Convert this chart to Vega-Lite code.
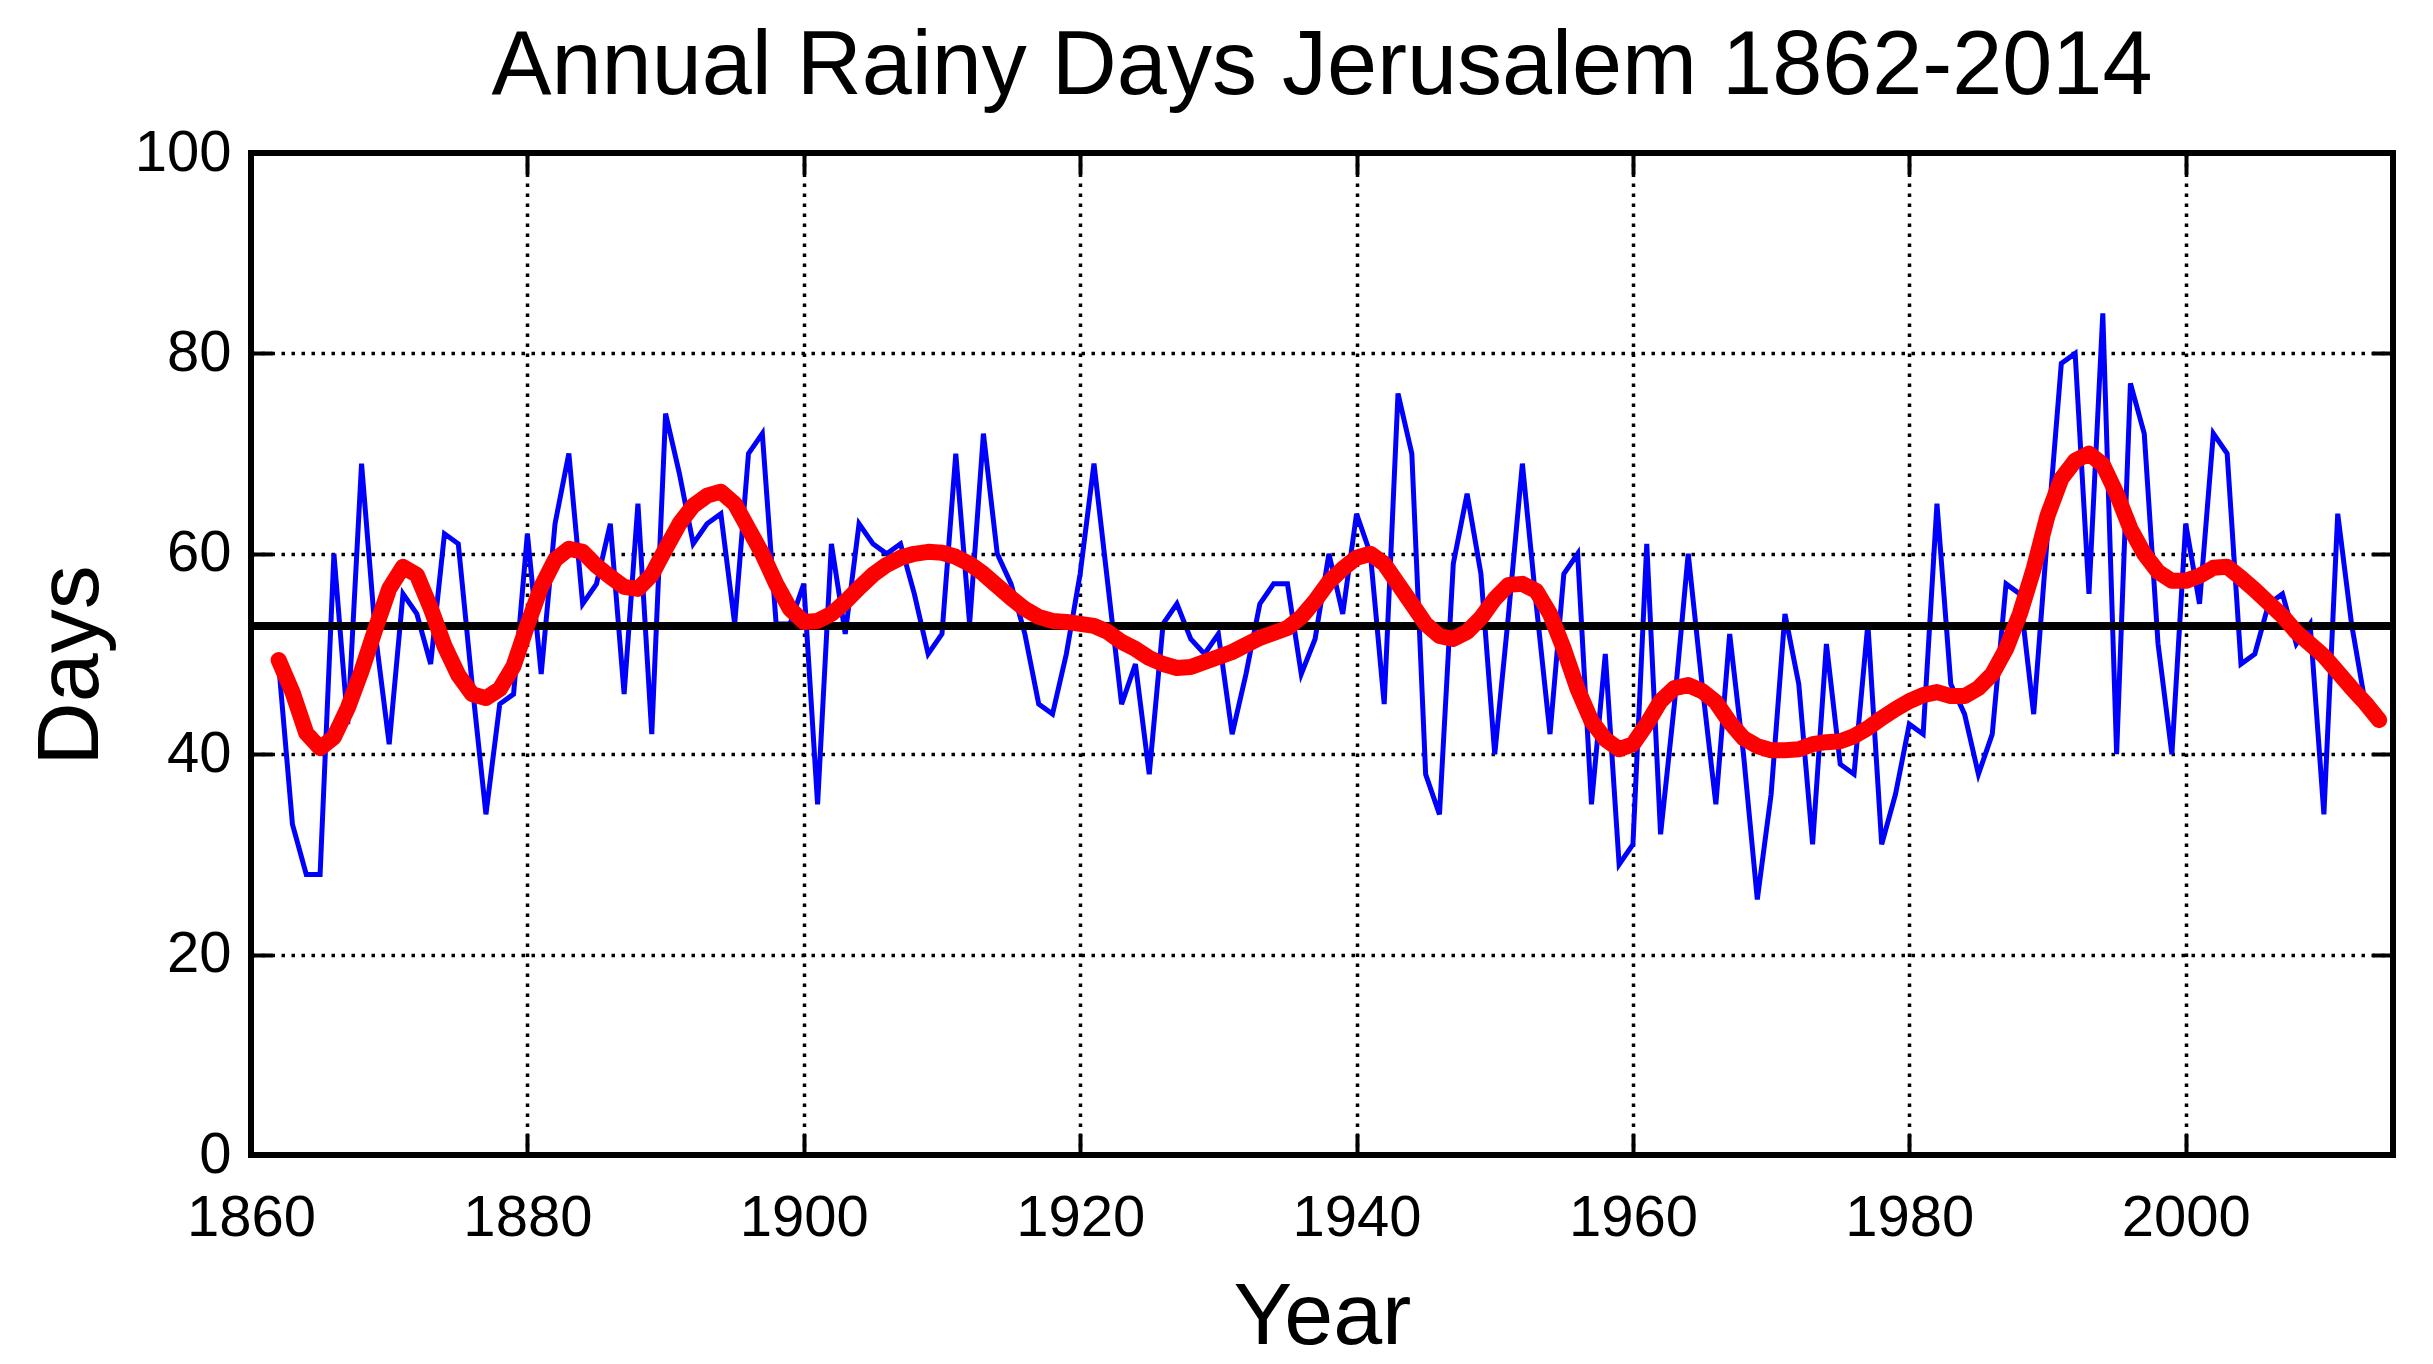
{
  "$schema": "https://vega.github.io/schema/vega-lite/v6.json",
  "width": 2142,
  "height": 1002,
  "autosize": {"type": "none"},
  "padding": {"left": 251, "top": 153, "right": 40, "bottom": 209},
  "background": "white",
  "title": {
    "text": "Annual Rainy Days Jerusalem 1862-2014",
    "fontSize": 90,
    "fontWeight": "normal",
    "color": "black",
    "anchor": "middle",
    "offset": 11
  },
  "config": {
    "font": "Liberation Sans",
    "view": {"stroke": "black", "strokeWidth": 6},
    "axis": {
      "domain": false,
      "labelFontSize": 58,
      "labelColor": "black",
      "tickColor": "black",
      "tickWidth": 4,
      "tickSize": -21,
      "gridColor": "black",
      "gridDash": [3.5, 6.5],
      "gridWidth": 3.5,
      "gridOpacity": 1,
      "titleFontSize": 88,
      "titleFontWeight": "normal",
      "titleColor": "black"
    }
  },
  "data": {
    "values": [
      {"year": 1862, "days": 49, "smooth": 49.4},
      {"year": 1863, "days": 33, "smooth": 46.2},
      {"year": 1864, "days": 28, "smooth": 42.1},
      {"year": 1865, "days": 28, "smooth": 40.6},
      {"year": 1866, "days": 60, "smooth": 41.7},
      {"year": 1867, "days": 43, "smooth": 44.6},
      {"year": 1868, "days": 69, "smooth": 48.3},
      {"year": 1869, "days": 52, "smooth": 52.5},
      {"year": 1870, "days": 41, "smooth": 56.5},
      {"year": 1871, "days": 56, "smooth": 58.7},
      {"year": 1872, "days": 54, "smooth": 57.9},
      {"year": 1873, "days": 49, "smooth": 54.6},
      {"year": 1874, "days": 62, "smooth": 50.8},
      {"year": 1875, "days": 61, "smooth": 47.9},
      {"year": 1876, "days": 47, "smooth": 46.0},
      {"year": 1877, "days": 34, "smooth": 45.6},
      {"year": 1878, "days": 45, "smooth": 46.5},
      {"year": 1879, "days": 46, "smooth": 48.8},
      {"year": 1880, "days": 62, "smooth": 52.9},
      {"year": 1881, "days": 48, "smooth": 56.7},
      {"year": 1882, "days": 63, "smooth": 59.4},
      {"year": 1883, "days": 70, "smooth": 60.5},
      {"year": 1884, "days": 55, "smooth": 60.2},
      {"year": 1885, "days": 57, "smooth": 58.8},
      {"year": 1886, "days": 63, "smooth": 57.7},
      {"year": 1887, "days": 46, "smooth": 56.7},
      {"year": 1888, "days": 65, "smooth": 56.5},
      {"year": 1889, "days": 42, "smooth": 57.9},
      {"year": 1890, "days": 74, "smooth": 60.5},
      {"year": 1891, "days": 68, "smooth": 63.0},
      {"year": 1892, "days": 61, "smooth": 64.8},
      {"year": 1893, "days": 63, "smooth": 65.8},
      {"year": 1894, "days": 64, "smooth": 66.2},
      {"year": 1895, "days": 53, "smooth": 65.0},
      {"year": 1896, "days": 70, "smooth": 62.5},
      {"year": 1897, "days": 72, "smooth": 60.0},
      {"year": 1898, "days": 53, "smooth": 57.0},
      {"year": 1899, "days": 53, "smooth": 54.5},
      {"year": 1900, "days": 57, "smooth": 53.2},
      {"year": 1901, "days": 35, "smooth": 53.3},
      {"year": 1902, "days": 61, "smooth": 54.0},
      {"year": 1903, "days": 52, "smooth": 55.2},
      {"year": 1904, "days": 63, "smooth": 56.6},
      {"year": 1905, "days": 61, "smooth": 57.9},
      {"year": 1906, "days": 60, "smooth": 58.9},
      {"year": 1907, "days": 61, "smooth": 59.6},
      {"year": 1908, "days": 56, "smooth": 60.0},
      {"year": 1909, "days": 50, "smooth": 60.2},
      {"year": 1910, "days": 52, "smooth": 60.1},
      {"year": 1911, "days": 70, "smooth": 59.7},
      {"year": 1912, "days": 53, "smooth": 59.0},
      {"year": 1913, "days": 72, "smooth": 58.0},
      {"year": 1914, "days": 60, "smooth": 56.8},
      {"year": 1915, "days": 57, "smooth": 55.6},
      {"year": 1916, "days": 52, "smooth": 54.5},
      {"year": 1917, "days": 45, "smooth": 53.7},
      {"year": 1918, "days": 44, "smooth": 53.3},
      {"year": 1919, "days": 50, "smooth": 53.2},
      {"year": 1920, "days": 58, "smooth": 53.0},
      {"year": 1921, "days": 69, "smooth": 52.8},
      {"year": 1922, "days": 57, "smooth": 52.2},
      {"year": 1923, "days": 45, "smooth": 51.2},
      {"year": 1924, "days": 49, "smooth": 50.5},
      {"year": 1925, "days": 38, "smooth": 49.6},
      {"year": 1926, "days": 53, "smooth": 49.0},
      {"year": 1927, "days": 55, "smooth": 48.6},
      {"year": 1928, "days": 51.5, "smooth": 48.7},
      {"year": 1929, "days": 50, "smooth": 49.2},
      {"year": 1930, "days": 52, "smooth": 49.7},
      {"year": 1931, "days": 42, "smooth": 50.2},
      {"year": 1932, "days": 48, "smooth": 50.9},
      {"year": 1933, "days": 55, "smooth": 51.6},
      {"year": 1934, "days": 57, "smooth": 52.1},
      {"year": 1935, "days": 57, "smooth": 52.6},
      {"year": 1936, "days": 48, "smooth": 53.7},
      {"year": 1937, "days": 51.5, "smooth": 55.3},
      {"year": 1938, "days": 60, "smooth": 57.2},
      {"year": 1939, "days": 54, "smooth": 58.5},
      {"year": 1940, "days": 64, "smooth": 59.6},
      {"year": 1941, "days": 60, "smooth": 60.0},
      {"year": 1942, "days": 45, "smooth": 59.0},
      {"year": 1943, "days": 76, "smooth": 57.0},
      {"year": 1944, "days": 70, "smooth": 55.0},
      {"year": 1945, "days": 38, "smooth": 53.0},
      {"year": 1946, "days": 34, "smooth": 51.8},
      {"year": 1947, "days": 59, "smooth": 51.5},
      {"year": 1948, "days": 66, "smooth": 52.2},
      {"year": 1949, "days": 58, "smooth": 53.6},
      {"year": 1950, "days": 40, "smooth": 55.5},
      {"year": 1951, "days": 54, "smooth": 56.9},
      {"year": 1952, "days": 69, "smooth": 57.0},
      {"year": 1953, "days": 55, "smooth": 56.3},
      {"year": 1954, "days": 42, "smooth": 54.0},
      {"year": 1955, "days": 58, "smooth": 50.5},
      {"year": 1956, "days": 60, "smooth": 46.5},
      {"year": 1957, "days": 35, "smooth": 43.3},
      {"year": 1958, "days": 50, "smooth": 41.5},
      {"year": 1959, "days": 29, "smooth": 40.5},
      {"year": 1960, "days": 31, "smooth": 41.0},
      {"year": 1961, "days": 61, "smooth": 43.0},
      {"year": 1962, "days": 32, "smooth": 45.3},
      {"year": 1963, "days": 45, "smooth": 46.6},
      {"year": 1964, "days": 60, "smooth": 46.9},
      {"year": 1965, "days": 47, "smooth": 46.3},
      {"year": 1966, "days": 35, "smooth": 45.2},
      {"year": 1967, "days": 52, "smooth": 43.2},
      {"year": 1968, "days": 40, "smooth": 41.6},
      {"year": 1969, "days": 25.5, "smooth": 40.8},
      {"year": 1970, "days": 36, "smooth": 40.4},
      {"year": 1971, "days": 54, "smooth": 40.4},
      {"year": 1972, "days": 47, "smooth": 40.5},
      {"year": 1973, "days": 31, "smooth": 41.0},
      {"year": 1974, "days": 51, "smooth": 41.2},
      {"year": 1975, "days": 39, "smooth": 41.3},
      {"year": 1976, "days": 38, "smooth": 41.8},
      {"year": 1977, "days": 53, "smooth": 42.6},
      {"year": 1978, "days": 31, "smooth": 43.6},
      {"year": 1979, "days": 36, "smooth": 44.5},
      {"year": 1980, "days": 43, "smooth": 45.3},
      {"year": 1981, "days": 42, "smooth": 45.9},
      {"year": 1982, "days": 65, "smooth": 46.2},
      {"year": 1983, "days": 47, "smooth": 45.8},
      {"year": 1984, "days": 44, "smooth": 45.8},
      {"year": 1985, "days": 38, "smooth": 46.6},
      {"year": 1986, "days": 42, "smooth": 48.0},
      {"year": 1987, "days": 57, "smooth": 50.5},
      {"year": 1988, "days": 56, "smooth": 54.0},
      {"year": 1989, "days": 44, "smooth": 58.5},
      {"year": 1990, "days": 62, "smooth": 63.8},
      {"year": 1991, "days": 79, "smooth": 67.5},
      {"year": 1992, "days": 80, "smooth": 69.3},
      {"year": 1993, "days": 56, "smooth": 70.0},
      {"year": 1994, "days": 84, "smooth": 68.9},
      {"year": 1995, "days": 40, "smooth": 66.0},
      {"year": 1996, "days": 77, "smooth": 62.5},
      {"year": 1997, "days": 72, "smooth": 60.0},
      {"year": 1998, "days": 51, "smooth": 58.2},
      {"year": 1999, "days": 40, "smooth": 57.3},
      {"year": 2000, "days": 63, "smooth": 57.3},
      {"year": 2001, "days": 55, "smooth": 57.8},
      {"year": 2002, "days": 72, "smooth": 58.6},
      {"year": 2003, "days": 70, "smooth": 58.7},
      {"year": 2004, "days": 49, "smooth": 57.6},
      {"year": 2005, "days": 50, "smooth": 56.4},
      {"year": 2006, "days": 55, "smooth": 55.1},
      {"year": 2007, "days": 56, "smooth": 53.8},
      {"year": 2008, "days": 51, "smooth": 52.2},
      {"year": 2009, "days": 53, "smooth": 51.0},
      {"year": 2010, "days": 34, "smooth": 49.8},
      {"year": 2011, "days": 64, "smooth": 48.2},
      {"year": 2012, "days": 53, "smooth": 46.6},
      {"year": 2013, "days": 45, "smooth": 45.1},
      {"year": 2014, "days": 43, "smooth": 43.4}
    ]
  },
  "layer": [
    {
      "mark": {"type": "line", "color": "#0000ff", "strokeWidth": 5, "strokeJoin": "miter"},
      "encoding": {
        "x": {
          "field": "year",
          "type": "quantitative",
          "scale": {"domain": [1860, 2015], "nice": false, "zero": false},
          "axis": {
            "orient": "bottom",
            "values": [1860, 1880, 1900, 1920, 1940, 1960, 1980, 2000],
            "format": "d",
            "grid": true,
            "labelPadding": 55,
            "labelFlush": false,
            "title": "Year",
            "titleY": 188,
            "titleBaseline": "alphabetic"
          }
        },
        "y": {
          "field": "days",
          "type": "quantitative",
          "scale": {"domain": [0, 100], "nice": false},
          "axis": {
            "orient": "left",
            "values": [0, 20, 40, 60, 80, 100],
            "grid": true,
            "labelPadding": 41,
            "labelFlush": false,
            "title": "Days",
            "titleX": -154,
            "titleY": 512,
            "titleBaseline": "alphabetic"
          }
        }
      }
    },
    {
      "mark": {"type": "rule", "color": "black", "strokeWidth": 8},
      "encoding": {
        "y": {"datum": 52.8, "type": "quantitative", "axis": null}
      }
    },
    {
      "mark": {"type": "line", "color": "#ff0000", "strokeWidth": 16, "strokeCap": "round", "strokeJoin": "round"},
      "encoding": {
        "x": {
          "field": "year",
          "type": "quantitative",
          "axis": {
            "orient": "top",
            "values": [1880, 1900, 1920, 1940, 1960, 1980, 2000],
            "labels": false,
            "grid": false,
            "title": null
          }
        },
        "y": {
          "field": "smooth",
          "type": "quantitative",
          "axis": {
            "orient": "right",
            "values": [20, 40, 60, 80],
            "labels": false,
            "grid": false,
            "title": null
          }
        }
      }
    }
  ],
  "resolve": {"axis": {"x": "independent", "y": "independent"}}
}
